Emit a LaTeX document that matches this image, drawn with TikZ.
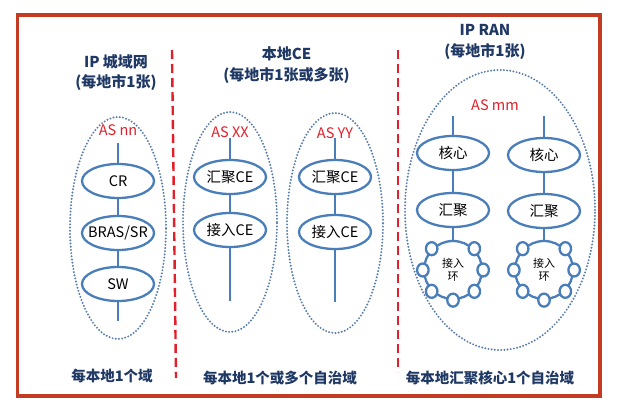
\documentclass[tikz,border=0pt]{standalone}
\usepackage{fontspec}
\setmainfont{Noto Sans CJK SC}
\usetikzlibrary{shapes.geometric}
\definecolor{frame}{HTML}{C23B22}
\definecolor{dred}{HTML}{E0202A}
\definecolor{navy}{HTML}{1F3864}
\definecolor{nblue}{HTML}{4A7EBB}
\definecolor{dblue}{HTML}{5B7FAA}
\newcommand{\devlbl}[1]{\makebox[0pt]{#1}}
\begin{document}
\begin{tikzpicture}[x=1pt,y=-1pt,
  dev/.style={ellipse, draw=nblue, line width=2.3pt, minimum width=72pt, minimum height=34pt, inner sep=0pt, font=\fontsize{14.5}{16}\selectfont},
  link/.style={draw=nblue, line width=2.3pt},
  dom/.style={ellipse, draw=dblue, line width=2.2pt, dash pattern=on 0pt off 3.2pt, line cap=round, inner sep=0pt},
  ttl/.style={font=\fontsize{15}{20.5}\selectfont\bfseries, text=navy, align=center},
  foot/.style={font=\fontsize{14.5}{17}\selectfont\bfseries, text=navy},
  aslbl/.style={font=\fontsize{14.5}{16}\selectfont, text=dred},
  ringc/.style={circle, draw=nblue, line width=2.3pt, minimum size=58pt, inner sep=0pt, align=center, font=\fontsize{11}{13}\selectfont},
  ringn/.style={ellipse, draw=nblue, fill=white, line width=2.3pt, minimum width=11.5pt, minimum height=13pt, inner sep=0pt},
  sep/.style={draw=dred, line width=2.4pt, dash pattern=on 9pt off 5pt},
]
\useasboundingbox (0,0) rectangle (618,412);
\fill[white] (0,0) rectangle (618,412);
\draw[frame, line width=3.5pt] (17.5,15) rectangle (600,396);

% separators
\coordinate (s1a) at (172,50);
\coordinate (s1b) at (176,378);
\coordinate (s2a) at (398,50);
\coordinate (s2b) at (398,372);
\draw[sep] (s1a) -- (s1b);
\draw[sep] (s2a) -- (s2b);

% titles
\node[ttl] (ti1) at (116,72.5) {IP 城域网\\(每地市1张)};
\node[ttl] (ti2) at (286.5,65) {本地CE\\(每地市1张或多张)};
\node[ttl] (ti3) at (485,42) {IP RAN\\(每地市1张)};

% footers
\node[foot] (f1) at (112,376) {每本地1个域};
\node[foot] (f2) at (280,378) {每本地1个或多个自治域};
\node[foot] (f3) at (490,378) {每本地汇聚核心1个自治域};

% domains
\node[dom, minimum width=96pt, minimum height=222pt] (dm1) at (118,228) {};
\node[dom, minimum width=94pt, minimum height=220pt] (dm2) at (230,222) {};
\node[dom, minimum width=96pt, minimum height=220pt] (dm3) at (335,223) {};
\node[dom, minimum width=190pt, minimum height=280pt] (dm4) at (500,210) {};

\node[aslbl] (as1) at (118,130) {AS nn};
\node[aslbl] (as2) at (230,132) {AS XX};
\node[aslbl] (as3) at (335,133) {AS YY};
\node[aslbl] (as4) at (495,105) {AS mm};

% IP metro
\coordinate (t1) at (118,143);
\node[dev] (cr) at (118,181) {\devlbl{CR}};
\node[dev] (bras) at (118,233) {\devlbl{BRAS/SR}};
\node[dev] (sw) at (118,284) {\devlbl{SW}};
\coordinate (b1) at (118,321);
\draw[link] (t1) -- (cr) -- (bras) -- (sw) -- (b1);

% CE XX
\coordinate (t2) at (230,138);
\node[dev] (hj1) at (230,177) {\devlbl{汇聚CE}};
\node[dev] (jr1) at (230,230) {\devlbl{接入CE}};
\coordinate (b2) at (230,301);
\draw[link] (t2) -- (hj1) -- (jr1) -- (b2);

% CE YY
\coordinate (t3) at (335,138);
\node[dev] (hj2) at (335,177) {\devlbl{汇聚CE}};
\node[dev] (jr2) at (335,232) {\devlbl{接入CE}};
\coordinate (b3) at (335,302);
\draw[link] (t3) -- (hj2) -- (jr2) -- (b3);

% IP RAN
\coordinate (t4) at (453,116);
\node[dev] (hx1) at (453,153) {\devlbl{核心}};
\node[dev] (hr1) at (453,210) {\devlbl{汇聚}};
\node[ringc] (rg1) at (453,270) {接入\\环};
\draw[link] (t4) -- (hx1) -- (hr1) -- (rg1);
\foreach \a in {0,45,135,180,225,270,315} \node[ringn] at (rg1.\a) {};

\coordinate (t5) at (544,116);
\node[dev] (hx2) at (544,155) {\devlbl{核心}};
\node[dev] (hr2) at (544,211) {\devlbl{汇聚}};
\node[ringc] (rg2) at (544,270) {接入\\环};
\draw[link] (t5) -- (hx2) -- (hr2) -- (rg2);
\foreach \a in {0,45,135,180,225,270,315} \node[ringn] at (rg2.\a) {};
\end{tikzpicture}
\end{document}
